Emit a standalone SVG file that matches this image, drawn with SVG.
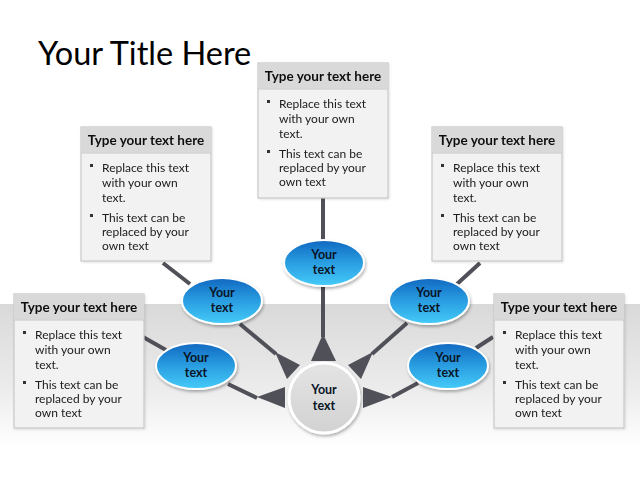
<svg xmlns="http://www.w3.org/2000/svg" width="640" height="480" viewBox="0 0 640 480">
<defs>
<linearGradient id="band" x1="0" y1="0" x2="0" y2="1">
<stop offset="0" stop-color="#d9d9d9"/>
<stop offset="0.6" stop-color="#ececec"/>
<stop offset="1" stop-color="#ffffff"/>
</linearGradient>
<linearGradient id="blue" x1="0" y1="0" x2="0" y2="1">
<stop offset="0" stop-color="#1168c0"/>
<stop offset="0.5" stop-color="#2a9ee2"/>
<stop offset="1" stop-color="#45cbf8"/>
</linearGradient>
<linearGradient id="grey" x1="0" y1="0" x2="0" y2="1">
<stop offset="0" stop-color="#e4e4e4"/>
<stop offset="1" stop-color="#d2d2d2"/>
</linearGradient>
<filter id="sh" x="-20%" y="-20%" width="140%" height="150%">
<feDropShadow dx="1" dy="2" stdDeviation="1.5" flood-color="#000" flood-opacity="0.3"/>
</filter>
<filter id="bsh" x="-5%" y="-5%" width="110%" height="110%">
<feDropShadow dx="1" dy="1" stdDeviation="1" flood-color="#000" flood-opacity="0.12"/>
</filter>
</defs>
<style>
.title{font-family:"Lato","Liberation Sans",sans-serif;font-size:32.5px;fill:#000}
.box{fill:#f2f2f2;stroke:#c8c8c8;stroke-width:1.2}
.hdr{fill:#d9d9d9}
.hl{stroke:#c8c8c8;stroke-width:1}
.ht{font-family:"Lato","Liberation Sans",sans-serif;font-weight:bold;font-size:13.5px;fill:#111;text-anchor:middle}
.bt{font-family:"Lato","Liberation Sans",sans-serif;font-size:12px;fill:#1a1a1a}
.bul{fill:#333}
.ell{fill:url(#blue);stroke:#fff;stroke-width:2;filter:url(#sh)}
.cir{fill:url(#grey);stroke:#fff;stroke-width:3;filter:url(#sh)}
.nt{font-family:"Lato","Liberation Sans",sans-serif;font-weight:bold;font-size:12.5px;fill:#0a1526;text-anchor:middle}
.ln{stroke:#505058;stroke-width:4;fill:none}
.ar{fill:#505058}
</style>
<rect x="0" y="304" width="640" height="142" fill="url(#band)"/>
<text class="title" x="38" y="65">Your Title Here</text>

<g id="connectors">
<line class="ln" x1="143" y1="337" x2="166" y2="350"/>
<line class="ln" x1="228" y1="384" x2="257" y2="398"/>
<line class="ln" x1="163" y1="263" x2="190" y2="284"/>
<line class="ln" x1="240" y1="324" x2="276" y2="354"/>
<line class="ln" x1="323" y1="198" x2="323" y2="242"/>
<line class="ln" x1="323" y1="284" x2="323" y2="337"/>
<line class="ln" x1="480" y1="263" x2="457" y2="284"/>
<line class="ln" x1="407" y1="323" x2="372" y2="354"/>
<line class="ln" x1="493" y1="337" x2="476" y2="348"/>
<line class="ln" x1="392" y1="397" x2="418" y2="383"/>
<polygon class="ar" points="257,397 285,387 285,408"/>
<polygon class="ar" points="392,397 363,387 363,408"/>
<polygon class="ar" points="323,334 311,361 336,361"/>
<polygon class="ar" points="275,352 300,365 287,379"/>
<polygon class="ar" points="373,352 348,365 361,379"/>
</g>

<g id="box-left-bottom" filter="url(#bsh)">
<rect class="box" x="14" y="294" width="130" height="134"/>
<rect class="hdr" x="14.6" y="294.6" width="128.8" height="25"/>
<line class="hl" x1="14" y1="320" x2="144" y2="320"/>
<text class="ht" x="79" y="312">Type your text here</text>
<rect class="bul" x="23" y="331" width="3" height="3"/>
<text class="bt" x="35" y="339">Replace this text</text>
<text class="bt" x="35" y="354">with your own</text>
<text class="bt" x="35" y="369">text.</text>
<rect class="bul" x="23" y="381" width="3" height="3"/>
<text class="bt" x="35" y="389">This text can be</text>
<text class="bt" x="35" y="403">replaced by your</text>
<text class="bt" x="35" y="417">own text</text>
</g>

<g id="box-left-top" filter="url(#bsh)">
<rect class="box" x="81" y="127" width="130" height="134"/>
<rect class="hdr" x="81.6" y="127.6" width="128.8" height="25"/>
<line class="hl" x1="81" y1="153" x2="211" y2="153"/>
<text class="ht" x="146" y="145">Type your text here</text>
<rect class="bul" x="90" y="164" width="3" height="3"/>
<text class="bt" x="102" y="172">Replace this text</text>
<text class="bt" x="102" y="187">with your own</text>
<text class="bt" x="102" y="202">text.</text>
<rect class="bul" x="90" y="214" width="3" height="3"/>
<text class="bt" x="102" y="222">This text can be</text>
<text class="bt" x="102" y="236">replaced by your</text>
<text class="bt" x="102" y="250">own text</text>
</g>

<g id="box-center-top" filter="url(#bsh)">
<rect class="box" x="258" y="63" width="130" height="135"/>
<rect class="hdr" x="258.6" y="63.6" width="128.8" height="25"/>
<line class="hl" x1="258" y1="89" x2="388" y2="89"/>
<text class="ht" x="323" y="81">Type your text here</text>
<rect class="bul" x="267" y="100" width="3" height="3"/>
<text class="bt" x="279" y="108">Replace this text</text>
<text class="bt" x="279" y="123">with your own</text>
<text class="bt" x="279" y="138">text.</text>
<rect class="bul" x="267" y="150" width="3" height="3"/>
<text class="bt" x="279" y="158">This text can be</text>
<text class="bt" x="279" y="172">replaced by your</text>
<text class="bt" x="279" y="186">own text</text>
</g>

<g id="box-right-top" filter="url(#bsh)">
<rect class="box" x="432" y="127" width="130" height="134"/>
<rect class="hdr" x="432.6" y="127.6" width="128.8" height="25"/>
<line class="hl" x1="432" y1="153" x2="562" y2="153"/>
<text class="ht" x="497" y="145">Type your text here</text>
<rect class="bul" x="441" y="164" width="3" height="3"/>
<text class="bt" x="453" y="172">Replace this text</text>
<text class="bt" x="453" y="187">with your own</text>
<text class="bt" x="453" y="202">text.</text>
<rect class="bul" x="441" y="214" width="3" height="3"/>
<text class="bt" x="453" y="222">This text can be</text>
<text class="bt" x="453" y="236">replaced by your</text>
<text class="bt" x="453" y="250">own text</text>
</g>

<g id="box-right-bottom" filter="url(#bsh)">
<rect class="box" x="494" y="294" width="130" height="134"/>
<rect class="hdr" x="494.6" y="294.6" width="128.8" height="25"/>
<line class="hl" x1="494" y1="320" x2="624" y2="320"/>
<text class="ht" x="559" y="312">Type your text here</text>
<rect class="bul" x="503" y="331" width="3" height="3"/>
<text class="bt" x="515" y="339">Replace this text</text>
<text class="bt" x="515" y="354">with your own</text>
<text class="bt" x="515" y="369">text.</text>
<rect class="bul" x="503" y="381" width="3" height="3"/>
<text class="bt" x="515" y="389">This text can be</text>
<text class="bt" x="515" y="403">replaced by your</text>
<text class="bt" x="515" y="417">own text</text>
</g>

<g id="node-upper-left">
<ellipse class="ell" cx="222" cy="301" rx="40" ry="23"/>
<text class="nt" x="222" y="297">Your</text>
<text class="nt" x="222" y="312">text</text>
</g>
<g id="node-lower-left">
<ellipse class="ell" cx="196" cy="366" rx="40" ry="23"/>
<text class="nt" x="196" y="362">Your</text>
<text class="nt" x="196" y="377">text</text>
</g>
<g id="node-top">
<ellipse class="ell" cx="324" cy="263" rx="40" ry="23"/>
<text class="nt" x="324" y="259">Your</text>
<text class="nt" x="324" y="274">text</text>
</g>
<g id="node-upper-right">
<ellipse class="ell" cx="429" cy="301" rx="40" ry="23"/>
<text class="nt" x="429" y="297">Your</text>
<text class="nt" x="429" y="312">text</text>
</g>
<g id="node-lower-right">
<ellipse class="ell" cx="448" cy="366" rx="40" ry="23"/>
<text class="nt" x="448" y="362">Your</text>
<text class="nt" x="448" y="377">text</text>
</g>
<g id="node-center">
<circle class="cir" cx="324" cy="398" r="35"/>
<text class="nt" x="324" y="394">Your</text>
<text class="nt" x="324" y="410">text</text>
</g>
</svg>
